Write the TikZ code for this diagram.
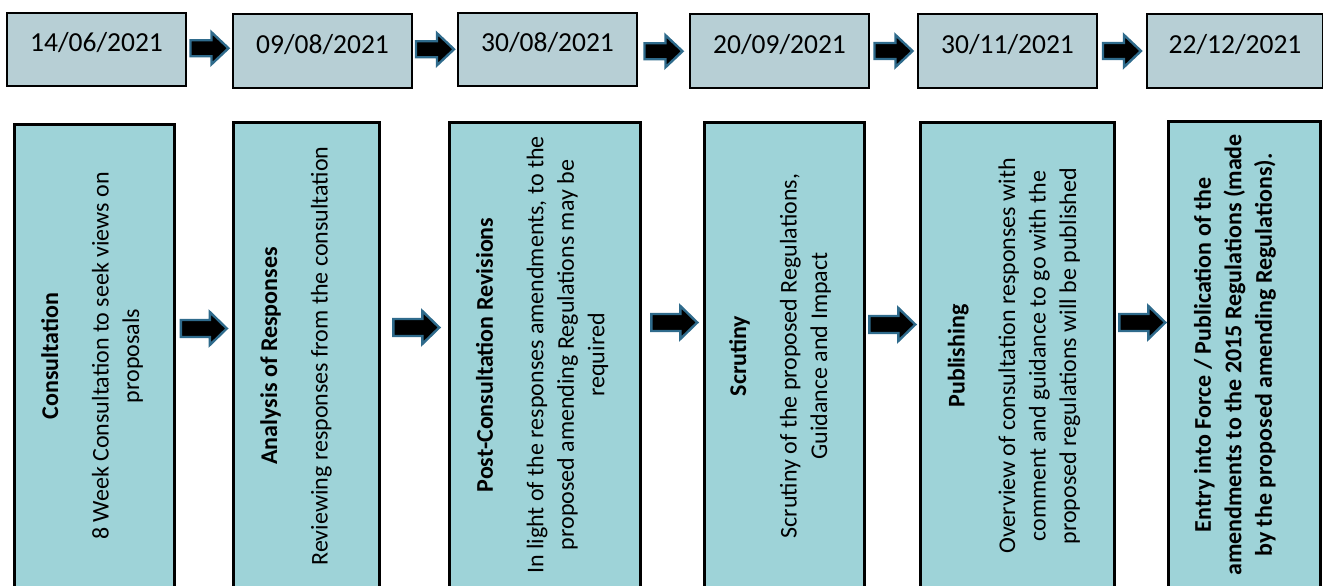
\documentclass[tikz,border=0pt]{standalone}
\usepackage{fontspec}
\setmainfont{Carlito}
\usetikzlibrary{calc}
\definecolor{datefill}{HTML}{B7CFD5}
\definecolor{stagefill}{HTML}{9ED3D8}
\definecolor{arrowedge}{HTML}{2F6B8C}
\tikzset{
  datebox/.style={draw=black, line width=2pt, fill=datefill, minimum width=179pt,
    minimum height=73pt, inner sep=0pt, anchor=north west,
    font=\fontsize{27.5}{33}\selectfont, text height=17.5pt, text depth=13pt},
  stagebox/.style={draw=black, line width=2.6pt, fill=stagefill, anchor=north west,
    inner sep=0pt, minimum height=478pt},
  stagetext/.style={rotate=90, align=center, inner sep=0pt,
    font=\fontsize{24}{30.5}\selectfont},
  blockarrow/.style={fill=black, draw=arrowedge, line width=2.4pt, line join=miter},
  pics/toparrow/.style={code={
    \path[blockarrow] (-19,-8) -- (2,-8) -- (2,-16) -- (19,0) -- (2,16) -- (2,8) -- (-19,8) -- cycle;}},
  pics/midarrow/.style={code={
    \path[blockarrow] (-23,-8.5) -- (6,-8.5) -- (6,-16.5) -- (23,0) -- (6,16.5) -- (6,8.5) -- (-23,8.5) -- cycle;}},
}
\begin{document}
\begin{tikzpicture}[x=1pt,y=-1pt]
\useasboundingbox (0,0) rectangle (1323,586);
\clip (0,0) rectangle (1323,586);
% date boxes
\node[datebox] (d1) at (6,12) {14/06/2021};
\node[datebox, minimum height=74pt] (d2) at (232,13) {09/08/2021};
\node[datebox] (d3) at (457,12) {30/08/2021};
\node[datebox, minimum height=74pt] (d4) at (689,13) {20/09/2021};
\node[datebox, minimum height=74pt] (d5) at (917,13) {30/11/2021};
\node[datebox, minimum height=74pt, minimum width=176pt] (d6) at (1146,13) {22/12/2021};
% top arrows
\path ($(d1.east)!0.5!(d2.west)$) ++(0,-2) pic {toparrow};
\path ($(d2.east)!0.5!(d3.west)$) ++(0,-1) pic {toparrow};
\path ($(d3.east)!0.5!(d4.west)$) ++(0,1) pic {toparrow};
\path ($(d4.east)!0.5!(d5.west)$) ++(0,0) pic {toparrow};
\path ($(d5.east)!0.5!(d6.west)$) ++(0,0) pic {toparrow};
% stage boxes
\node[stagebox, minimum width=160pt] (s1) at (13,123) {};
\node[stagebox, minimum width=146pt] (s2) at (232,121) {};
\node[stagebox, minimum width=191pt] (s3) at (448,121) {};
\node[stagebox, minimum width=160pt] (s4) at (703,121) {};
\node[stagebox, minimum width=194pt] (s5) at (919,121) {};
\node[stagebox, minimum width=152pt] (s6) at (1167,120) {};
% stage texts
\node[stagetext] (t1) at (92,356) {\textbf{Consultation}\\[20pt]8 Week Consultation to seek views on\\proposals};
\node[stagetext] (t2) at (296,356) {\textbf{Analysis of Responses}\\[20pt]Reviewing responses from the consultation};
\node[stagetext] (t3) at (542,355) {\textbf{Post-Consultation Revisions}\\[20pt]In light of the responses amendments, to the\\proposed amending Regulations may be\\required};
\node[stagetext] (t4) at (780,356) {\textbf{Scrutiny}\\[20pt]Scrutiny of the proposed Regulations,\\Guidance and Impact};
\node[stagetext] (t5) at (1014,356) {\textbf{Publishing}\\[20pt]Overview of consultation responses with\\comment and guidance to go with the\\proposed regulations will be published};
\node[stagetext, font=\fontsize{24}{30.5}\selectfont\bfseries] (t6) at (1235,355) {Entry into Force / Publication of the\\amendments to the 2015 Regulations (made\\by the proposed amending Regulations).};
% middle arrows
\path let \p1=($(s1.east)!0.5!(s2.west)$) in (\x1,-328.5pt) pic {midarrow};
\path let \p1=($(s2.east)!0.5!(s3.west)$) in (\x1+2pt,-327.5pt) pic {midarrow};
\path let \p1=($(s3.east)!0.5!(s4.west)$) in (\x1+2pt,-322.5pt) pic {midarrow};
\path let \p1=($(s4.east)!0.5!(s5.west)$) in (\x1,-324.5pt) pic {midarrow};
\path let \p1=($(s5.east)!0.5!(s6.west)$) in (\x1+1pt,-322.5pt) pic {midarrow};
\end{tikzpicture}
\end{document}
